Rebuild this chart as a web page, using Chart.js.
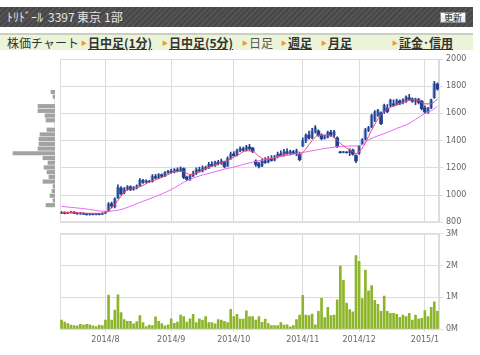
<!DOCTYPE html>
<html>
<head>
<meta charset="utf-8">
<script src="https://cdn.jsdelivr.net/npm/chart.js@4.4.1/dist/chart.umd.min.js"></script>
<style>
body{margin:0;background:#fff;font-family:"Noto Sans CJK JP",sans-serif;}
#wrap{position:relative;width:480px;height:355px;overflow:hidden;}
#hdr{position:absolute;left:0;top:7px;width:473px;height:20px;background:repeating-linear-gradient(135deg,#474747 0 2px,#545454 2px 4px);color:#e4e4e4;font-size:12px;line-height:20px;}
#hdr span{position:absolute;top:0;white-space:nowrap;}
#btn{position:absolute;left:440px;top:5px;width:26px;height:11px;background:linear-gradient(#fff,#e2e2e2);border:1px solid #8a8a8a;box-sizing:border-box;color:#222;font-size:9px;line-height:9px;text-align:center;}
#nav{position:absolute;left:0;top:33px;width:473px;height:17px;background:#ebf4d9;border-top:2px solid #c9d0bd;box-sizing:border-box;font-size:12px;line-height:15px;color:#333;}
#nav span{position:absolute;top:0;white-space:nowrap;}
#nav .a{color:#f29a1f;font-size:6px;}
#nav .l{font-weight:bold;text-decoration:underline;color:#333;}
canvas{position:absolute;left:0;}
</style>
</head>
<body>
<div id="wrap">
  <div id="hdr">
    <span style="left:7px">ﾄﾘﾄﾞｰﾙ</span>
    <span style="left:48px">3397</span>
    <span style="left:77px">東京</span>
    <span style="left:104px">1部</span>
    <div id="btn">更新</div>
  </div>
  <div id="nav">
    <span style="left:7px">株価チャート</span>
    <span class="a" style="left:81px">▶</span><span class="l" style="left:88px">日中足(1分)</span>
    <span class="a" style="left:162px">▶</span><span class="l" style="left:169px">日中足(5分)</span>
    <span class="a" style="left:242px">▶</span><span style="left:249px;color:#555">日足</span>
    <span class="a" style="left:281px">▶</span><span class="l" style="left:288px">週足</span>
    <span class="a" style="left:321px">▶</span><span class="l" style="left:328px">月足</span>
    <span class="a" style="left:392px">▶</span><span class="l" style="left:399px">証金･信用</span>
  </div>
  <canvas id="hist" width="60" height="180" style="top:50px"></canvas>
  <canvas id="price" width="480" height="180" style="top:50px"></canvas>
  <canvas id="vol" width="480" height="129" style="top:226px;background:#fff"></canvas>
</div>
<script>
// trading days, by month
var tradingDays = [
  ['2014/7', [11,14,15,16,17,18,22,23,24,25,28,29,30,31]],
  ['2014/8', [1,4,5,6,7,8,11,12,13,14,15,18,19,20,21,22,25,26,27,28,29]],
  ['2014/9', [1,2,3,4,5,8,9,10,11,12,16,17,18,19,22,24,25,26,29,30]],
  ['2014/10', [1,2,3,6,7,8,9,10,14,15,16,17,20,21,22,23,24,27,28,29,30,31]],
  ['2014/11', [4,5,6,7,10,11,12,13,14,17,18,19,20,21,25,26,27,28]],
  ['2014/12', [1,2,3,4,5,8,9,10,11,12,15,16,17,18,19,22,24,25,26,29,30]],
  ['2015/1', [5,6,7,8,9]]
];
var monthTicks = ['2014/8', '2014/9', '2014/10', '2014/11', '2014/12', '2015/1'];

// daily prices (yen)
var open = [868,872,865,870,874,866,862,866,860,856,860,857,862,858,
  866,880,935,915,978,1050,1015,1045,1060,1040,1055,1068,1105,1095,1100,1100,1135,1125,1148,1140,1165,
  1172,1168,1185,1178,1195,1130,1115,1140,1158,1185,1175,1200,1198,1225,1215,1238,1232,1245,1212,1270,
  1300,1292,1325,1340,1330,1352,1345,1250,1228,1215,1250,1242,1265,1258,1280,1300,1292,1318,1305,1318,1312,1300,
  1360,1400,1440,1420,1470,1470,1440,1418,1425,1460,1440,1420,1318,1315,1316,1312,1330,1290,
  1305,1375,1410,1475,1500,1550,1585,1605,1610,1640,1655,1670,1668,1690,1680,1690,1715,1705,1690,1700,1690,
  1640,1608,1640,1715,1815];
var high = [878,876,874,880,878,870,872,869,864,865,864,866,866,868,
  880,945,948,980,1075,1062,1055,1070,1068,1062,1075,1120,1115,1112,1108,1150,1152,1158,1155,1172,1182,
  1190,1195,1200,1207,1200,1140,1150,1175,1200,1205,1215,1212,1240,1245,1250,1255,1265,1250,1280,1315,
  1320,1338,1355,1352,1365,1372,1350,1258,1240,1262,1275,1282,1290,1292,1315,1325,1335,1340,1330,1328,1338,1315,
  1420,1450,1470,1490,1510,1480,1450,1440,1470,1475,1475,1428,1322,1322,1320,1340,1338,1295,
  1365,1415,1490,1505,1595,1620,1630,1612,1668,1665,1705,1700,1705,1700,1708,1730,1740,1715,1712,1710,1695,
  1655,1645,1705,1835,1825];
var low = [862,860,862,866,862,858,857,855,852,852,853,853,854,855,
  862,878,905,905,975,1000,1008,1035,1032,1035,1045,1065,1085,1088,1090,1095,1118,1120,1130,1135,1158,
  1160,1162,1170,1172,1120,1105,1108,1135,1150,1168,1170,1185,1195,1208,1210,1222,1225,1200,1210,1262,
  1285,1288,1318,1322,1325,1330,1312,1210,1200,1208,1232,1235,1248,1250,1272,1282,1285,1298,1295,1300,1290,1250,
  1355,1385,1410,1415,1455,1430,1405,1410,1420,1430,1425,1348,1308,1310,1308,1290,1292,1238,
  1298,1370,1405,1465,1495,1540,1578,1518,1600,1605,1650,1652,1660,1665,1670,1680,1698,1680,1665,1670,1625,
  1600,1600,1635,1710,1770];
var close = [872,865,870,874,866,862,866,860,856,860,857,862,858,864,
  872,935,920,972,1055,1010,1045,1060,1040,1055,1065,1110,1095,1105,1098,1140,1125,1150,1138,1165,1175,
  1168,1185,1178,1195,1130,1115,1140,1155,1185,1175,1200,1195,1225,1215,1238,1230,1250,1210,1270,1300,
  1290,1325,1340,1330,1355,1340,1318,1225,1212,1250,1240,1268,1255,1280,1300,1290,1318,1305,1320,1312,1325,1260,
  1400,1440,1420,1470,1495,1440,1415,1425,1460,1440,1465,1355,1312,1318,1312,1330,1300,1250,
  1358,1405,1480,1495,1585,1610,1620,1525,1660,1615,1698,1660,1695,1675,1700,1720,1705,1690,1705,1680,1635,
  1610,1638,1700,1820,1780];

// daily volume (millions of shares)
var volume = [0.28,0.22,0.17,0.12,0.11,0.10,0.15,0.12,0.15,0.13,0.10,0.08,0.12,0.11,
  0.28,1.07,0.28,0.60,1.08,0.52,0.30,0.24,0.24,0.16,0.23,0.42,0.20,0.08,0.12,0.11,0.38,0.24,0.17,0.10,0.13,
  0.32,0.18,0.22,0.44,0.39,0.22,0.32,0.46,0.20,0.32,0.28,0.39,0.20,0.20,0.16,0.30,0.28,0.24,0.20,0.62,
  0.39,0.46,0.31,0.31,0.57,0.39,0.39,0.28,0.39,0.21,0.31,0.17,0.11,0.11,0.11,0.20,0.12,0.13,0.07,0.11,0.30,0.44,
  1.06,0.44,0.42,0.47,0.13,0.56,0.97,0.36,0.68,0.42,0.44,0.92,1.98,1.53,0.82,0.61,0.54,2.31,
  2.13,0.96,1.86,1.20,1.37,0.90,0.78,0.56,1.04,0.56,0.49,0.49,0.46,0.37,0.44,0.39,0.49,0.28,0.44,0.31,0.34,
  0.58,0.39,0.68,0.86,0.56];

// moving averages: [bar index, yen]
var maShort = [[0,873],[4,870],[8,866],[12,865],[14,872],[16,905],[18,960],[20,1020],[22,1045],[25,1060],
  [28,1095],[31,1120],[34,1150],[37,1175],[39,1172],[41,1150],[43,1160],[45,1185],[48,1212],[50,1228],
  [53,1255],[56,1290],[59,1325],[61,1322],[63,1285],[65,1262],[67,1268],[70,1290],[73,1305],[75,1305],
  [76,1295],[78,1340],[80,1400],[82,1440],[85,1440],[87,1420],[89,1380],[91,1345],[93,1320],[94,1305],
  [96,1345],[98,1430],[100,1520],[102,1590],[104,1630],[106,1655],[108,1670],[110,1690],[112,1700],
  [114,1695],[116,1670],[118,1672],[120,1705]];
var maLong = [[0,916],[7,900],[14,880],[17,885],[20,900],[25,945],[31,998],[35,1040],[38,1080],[40,1105],
  [44,1140],[48,1165],[52,1190],[55,1205],[58,1225],[61,1241],[65,1262],[69,1280],[73,1295],[76,1309],
  [80,1325],[83,1338],[88,1355],[92,1360],[95,1362],[98,1405],[101,1435],[104,1460],[107,1490],[110,1515],
  [113,1555],[116,1600],[118,1620],[120,1650]];

// volume by price (bin centre in yen, volume in thousands of shares)
var profilePrice = [1820,1780,1740,1700,1660,1620,1580,1540,1500,1460,1420,1380,1340,1300,1260,1220,1180,1140,1100,1060,1020,980,940,900,860];
var profileVolume = [400,200,0,1700,1700,1000,900,0,800,1500,1600,1600,1700,4200,1200,700,1100,800,600,1200,200,300,500,200,900];

var dates = [];
tradingDays.forEach(function (m) { m[1].forEach(function (d) { dates.push(m[0] + '/' + d); }); });
var tickLabel = dates.map(function () { return ''; });
monthTicks.forEach(function (m) {
  var i = dates.findIndex(function (d) { return d.indexOf(m + '/') === 0; });
  tickLabel[i] = m;
});
function sparse(points) {
  var a = dates.map(function () { return null; });
  points.forEach(function (p) { a[p[0]] = p[1]; });
  return a;
}

var gridColor = '#dcdcdc';
var navy = '#243f8f';
Chart.defaults.font.family = 'DejaVu Sans';
Chart.defaults.font.size = 8;
Chart.defaults.color = '#666';

var monthGrid = function (c) { return tickLabel[c.index] ? gridColor : 'rgba(0,0,0,0)'; };
var frame = {
  id: 'frame',
  beforeDatasetsDraw: function (chart) {
    var a = chart.chartArea, ctx = chart.ctx;
    ctx.save();
    ctx.strokeStyle = gridColor;
    ctx.lineWidth = 1;
    ctx.strokeRect(a.left + 0.5, a.top + 0.5, a.right - a.left - 1, a.bottom - a.top - 1);
    ctx.restore();
  }
};

new Chart(document.getElementById('price'), {
  type: 'bar',
  data: {
    labels: dates,
    datasets: [
      { type: 'line', data: sparse(maShort), borderColor: '#f0476a', borderWidth: 1, pointRadius: 0,
        spanGaps: true, cubicInterpolationMode: 'monotone', order: 0 },
      { type: 'line', data: sparse(maLong), borderColor: '#e46cf4', borderWidth: 1, pointRadius: 0,
        spanGaps: true, cubicInterpolationMode: 'monotone', order: 0 },
      { data: dates.map(function (_, i) { return [low[i], high[i]]; }),
        backgroundColor: navy, barThickness: 1, grouped: false, order: 1 },
      { data: dates.map(function (_, i) { return [open[i], close[i]]; }),
        backgroundColor: dates.map(function (_, i) { return close[i] >= open[i] ? '#8da8da' : navy; }),
        borderWidth: 0, barThickness: 3, grouped: false, order: 2 }
    ]
  },
  options: {
    responsive: false,
    animation: false,
    layout: { padding: { left: 60, top: 9 } },
    plugins: { legend: { display: false }, tooltip: { enabled: false } },
    scales: {
      x: {
        ticks: { display: false, autoSkip: false },
        grid: { color: monthGrid, offset: false, drawTicks: false },
        border: { color: gridColor },
        afterFit: function (s) { s.height = 6; }
      },
      y: {
        position: 'right', min: 800, max: 2000,
        ticks: { stepSize: 200, padding: 3, callback: function (v) { return String(v); } },
        grid: { color: gridColor, tickLength: 4 },
        border: { color: gridColor },
        afterFit: function (s) { s.width = 41; }
      }
    }
  },
  plugins: [frame]
});

new Chart(document.getElementById('vol'), {
  type: 'bar',
  data: {
    labels: dates,
    datasets: [{ data: volume, backgroundColor: '#8db52b', barThickness: 2 }]
  },
  options: {
    responsive: false,
    animation: false,
    layout: { padding: { left: 60, top: 5 } },
    plugins: { legend: { display: false }, tooltip: { enabled: false } },
    scales: {
      x: {
        ticks: { autoSkip: false, maxRotation: 0, padding: 3,
          callback: function (v, i) { return tickLabel[i]; } },
        grid: { color: monthGrid, offset: false, tickLength: 3 },
        border: { color: gridColor },
        afterFit: function (s) { s.height = 26; }
      },
      y: {
        position: 'right', min: 0, max: 3,
        ticks: { stepSize: 1, padding: 3, callback: function (v) { return v + 'M'; } },
        grid: { color: gridColor, tickLength: 4 },
        border: { color: gridColor },
        afterFit: function (s) { s.width = 41; }
      }
    }
  },
  plugins: [frame]
});

new Chart(document.getElementById('hist'), {
  type: 'bar',
  data: {
    datasets: [{
      data: profilePrice.map(function (p, i) { return { x: profileVolume[i], y: p }; }),
      backgroundColor: '#a2a2a2', barThickness: 3.5
    }]
  },
  options: {
    indexAxis: 'y',
    responsive: false,
    animation: false,
    layout: { padding: { left: 0, right: 5, top: 9, bottom: 6 } },
    plugins: { legend: { display: false }, tooltip: { enabled: false } },
    scales: {
      x: { type: 'linear', display: false, reverse: true, min: 0, max: 5500 },
      y: { type: 'linear', display: false, min: 800, max: 2000 }
    }
  }
});
</script>
</body>
</html>
